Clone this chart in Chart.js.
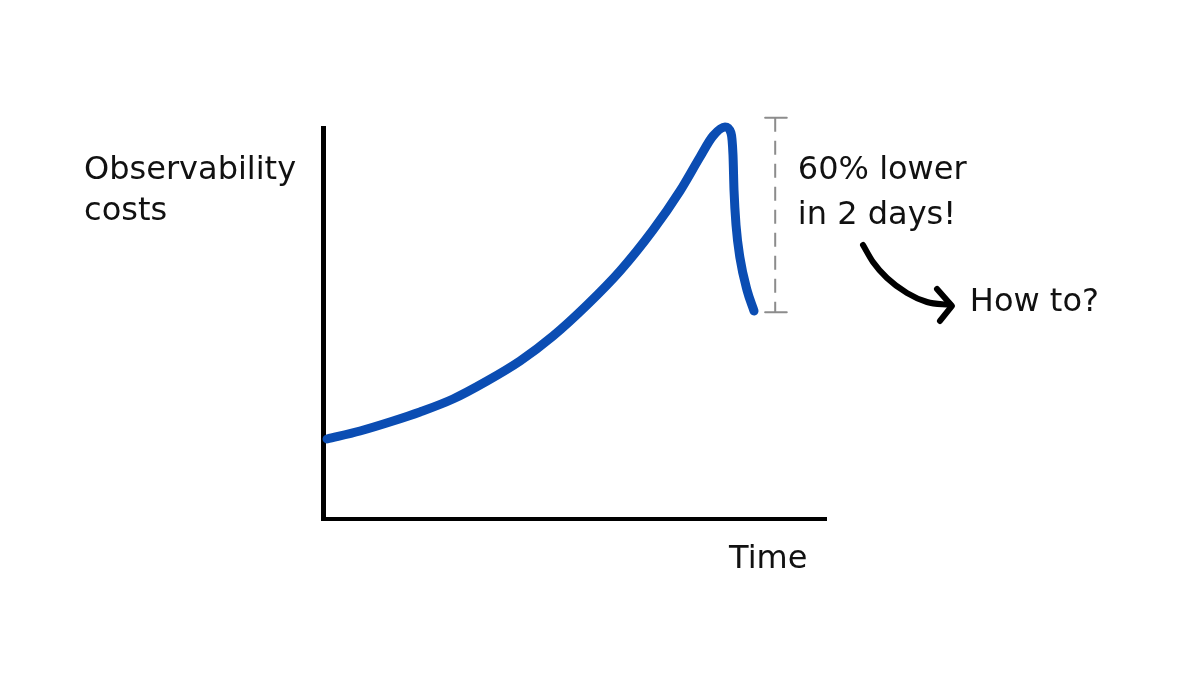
<!DOCTYPE html>
<html>
<head>
<meta charset="utf-8">
<script src="https://cdn.jsdelivr.net/npm/chart.js@4.4.1/dist/chart.umd.min.js"></script>
<style>
    html, body { margin: 0; padding: 0; background: #fff; }
    #wrap { width: 1200px; height: 675px; }
</style>
</head>
<body>
<div id="wrap"><canvas id="costChart" width="1200" height="675"></canvas></div>
<script>
// Cost curve (x: time 0-100, y: cost 0-100)
const curveX = [0.80, 7.36, 13.92, 19.28, 25.84, 32.60, 39.17, 45.73, 52.49, 59.05, 65.61, 70.97, 74.95, 77.53, 79.92, 81.11, 81.51, 81.71, 82.11, 82.90, 84.29, 85.69];
const curveY = [20.46, 22.51, 25.06, 27.37, 30.69, 35.29, 40.41, 46.80, 54.73, 63.43, 73.91, 83.89, 92.58, 97.95, 100.26, 98.72, 93.09, 84.14, 75.19, 66.75, 58.57, 53.20];

// Dashed "60% drop" marker
const dropX = [89.9, 89.9];
const dropY = [102.6, 52.9];
const capX = [87.9, 92.2];

// Arrow towards "How to?"
const arrowX = [107.36, 109.34, 112.13, 116.10, 120.08, 124.65];
const arrowY = [70.08, 65.73, 61.64, 57.80, 55.50, 54.73];
const headX = [122.07, 125.05, 122.66];
const headY = [58.82, 54.48, 50.64];

// Text labels, anchored in data units
const labels = [
    { text: 'Observability', x: -47.5, y: 89.0, align: 'left' },
    { text: 'costs', x: -47.5, y: 78.5, align: 'left' },
    { text: '60% lower', x: 94.4, y: 89.0, align: 'left' },
    { text: 'in 2 days!', x: 94.4, y: 77.5, align: 'left' },
    { text: 'How to?', x: 128.6, y: 55.2, align: 'left' },
    { text: 'Time', x: 96.3, y: -10.3, align: 'right' }
];

const toPoints = (xs, ys) => xs.map((x, i) => ({ x: x, y: ys[i] }));

const labelPlugin = {
    id: 'labelPlugin',
    afterDatasetsDraw(chart) {
        const ctx = chart.ctx;
        const xs = chart.scales.x;
        const ys = chart.scales.y;
        ctx.save();
        ctx.fillStyle = '#111';
        ctx.font = "32px 'DejaVu Sans', sans-serif";
        ctx.textBaseline = 'middle';
        labels.forEach(l => {
            ctx.textAlign = l.align;
            ctx.fillText(l.text, xs.getPixelForValue(l.x), ys.getPixelForValue(l.y));
        });
        ctx.restore();
    }
};

const common = { pointRadius: 0, fill: false, clip: false, borderCapStyle: 'round', borderJoinStyle: 'round' };

new Chart(document.getElementById('costChart').getContext('2d'), {
    type: 'line',
    data: {
        datasets: [
            Object.assign({}, common, {
                label: 'Observability costs',
                data: toPoints(curveX, curveY),
                borderColor: '#0b4db3',
                borderWidth: 9,
                cubicInterpolationMode: 'monotone'
            }),
            Object.assign({}, common, {
                label: 'drop',
                data: toPoints(dropX, dropY),
                borderColor: '#8c8c8c',
                borderWidth: 2,
                borderDash: [14, 9],
                borderCapStyle: 'butt'
            }),
            Object.assign({}, common, {
                label: 'capTop',
                data: toPoints(capX, [dropY[0], dropY[0]]),
                borderColor: '#8c8c8c',
                borderWidth: 2
            }),
            Object.assign({}, common, {
                label: 'capBottom',
                data: toPoints(capX, [dropY[1], dropY[1]]),
                borderColor: '#8c8c8c',
                borderWidth: 2
            }),
            Object.assign({}, common, {
                label: 'arrow',
                data: toPoints(arrowX, arrowY),
                borderColor: '#000',
                borderWidth: 6,
                cubicInterpolationMode: 'monotone'
            }),
            Object.assign({}, common, {
                label: 'arrowHead',
                data: toPoints(headX, headY),
                borderColor: '#000',
                borderWidth: 6
            })
        ]
    },
    options: {
        responsive: false,
        animation: false,
        layout: { padding: { left: 323, right: 374, top: 128, bottom: 156 } },
        plugins: {
            legend: { display: false },
            tooltip: { enabled: false }
        },
        scales: {
            x: {
                type: 'linear',
                grid: { display: false },
                ticks: { display: false },
                border: { display: true, color: '#000', width: 4 },
                // fixed range without min/max so off-axis annotation points are still drawn
                afterDataLimits: s => { s.min = 0; s.max = 100; },
                afterFit: s => { s.height = 0; }
            },
            y: {
                type: 'linear',
                grid: { display: false },
                ticks: { display: false },
                border: { display: true, color: '#000', width: 5 },
                afterDataLimits: s => { s.min = 0; s.max = 100; },
                afterFit: s => { s.width = 0; }
            }
        }
    },
    plugins: [labelPlugin]
});
</script>
</body>
</html>
